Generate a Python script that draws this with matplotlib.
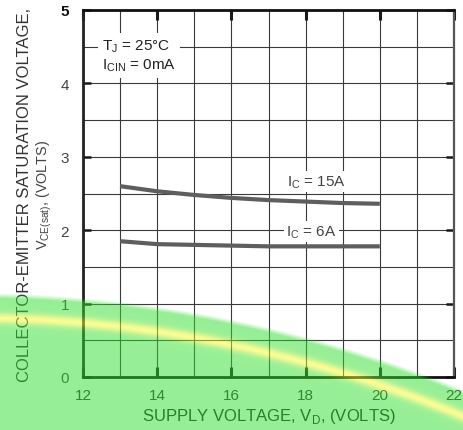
import numpy as np
import matplotlib
matplotlib.use("Agg")
import matplotlib.pyplot as plt

plt.rcParams['font.family'] = ['Liberation Sans', 'DejaVu Sans']

# ---- data ----
vd_15 = [13, 14, 15, 16, 17, 18, 19, 20]
vce_15 = [2.60, 2.53, 2.48, 2.44, 2.41, 2.39, 2.37, 2.36]
vd_6 = [13, 14, 15, 16, 17, 18, 19, 20]
vce_6 = [1.85, 1.81, 1.80, 1.79, 1.78, 1.78, 1.78, 1.78]
x_ticks = [12, 14, 16, 18, 20, 22]
y_ticks = [0, 1, 2, 3, 4, 5]
label_15 = "I$_\\mathregular{C}$ = 15A"
label_6 = "I$_\\mathregular{C}$ = 6A"
cond_lines = ["T$_\\mathregular{J}$ = 25°C", "I$_\\mathregular{CIN}$ = 0mA"]

W, H = 463, 431
fig = plt.figure(figsize=(W / 100, H / 100), dpi=100)
fig.patch.set_facecolor('white')
ax = fig.add_axes([83 / W, 1 - 378 / H, (454 - 83) / W, (378 - 11) / H])
ax.set_xlim(12, 22)
ax.set_ylim(0, 5)

# grid (every 1 V horizontally, every 0.5 V vertically)
ax.set_xticks(x_ticks)
ax.set_yticks(y_ticks)
ax.set_xticks(np.arange(13, 22, 2), minor=True)
ax.set_yticks(np.arange(0.5, 5, 1.0), minor=True)
ax.grid(which='both', color='#3a3a3a', linewidth=0.8)
ax.set_axisbelow(True)

ax.set_xticklabels([str(v) for v in x_ticks])
ax.set_yticklabels([str(v) for v in y_ticks])
ax.tick_params(axis='x', which='major', direction='in', length=7, width=2.2,
               top=True, bottom=True, labelsize=11, pad=8, colors='#1a1a1a',
               labelcolor='#333333')
ax.tick_params(axis='y', which='major', direction='in', length=6, width=1.8,
               left=True, right=True, labelsize=11, pad=10, colors='#1a1a1a',
               labelcolor='#444444')
ax.tick_params(which='minor', length=0)
for lab in ax.get_yticklabels():
    if lab.get_text() == '5':
        lab.set_fontweight('bold')
        lab.set_color('#111111')

for side, lw, col in [('left', 2.0, '#222222'), ('bottom', 2.0, '#111111'),
                      ('top', 2.0, '#111111'), ('right', 1.6, '#555555')]:
    ax.spines[side].set_linewidth(lw)
    ax.spines[side].set_color(col)

# curves
ax.plot(vd_15, vce_15, color='#5e5e5e', linewidth=3.0, solid_capstyle='butt', zorder=3)
ax.plot(vd_6, vce_6, color='#5e5e5e', linewidth=3.0, solid_capstyle='butt', zorder=3)

bb = dict(facecolor='white', edgecolor='none', pad=1.5)
ax.text(18.3, 2.66, label_15, fontsize=11, color='#444444', ha='center', va='center',
        bbox=bb, zorder=4)
ax.text(18.15, 1.98, label_6, fontsize=11, color='#444444', ha='center', va='center',
        bbox=bb, zorder=4)
ax.text(12.52, 4.38, cond_lines[0] + "\n" + cond_lines[1], fontsize=11, color='#222222',
        ha='left', va='center', linespacing=1.2,
        bbox=dict(facecolor='white', edgecolor='none', pad=3), zorder=4)

# axis labels
ax.set_xlabel("SUPPLY VOLTAGE, V$_\\mathregular{D}$, (VOLTS)", fontsize=12, color='#222222',
              labelpad=3)
fig.text(25 / W, 1 - 195 / H, "COLLECTOR-EMITTER SATURATION VOLTAGE,", rotation=90,
         fontsize=12, color='#333333', ha='center', va='center')
fig.text(44 / W, 1 - 195 / H, "V$_\\mathregular{CE(sat)}$, (VOLTS)", rotation=90,
         fontsize=10.4, color='#444444', ha='center', va='center')

# translucent green/yellow band that lies over the lower part of the reference image
yy, xx = np.mgrid[0:H, 0:W] + 0.5
d = np.hypot(xx + 30, yy - 1605)
edge = np.clip((1311 - d) / 5.0, 0, 1)
stripe = np.exp(-((d - 1286) / 5.5) ** 2)
green = np.array([0.18, 0.88, 0.18])
yellow = np.array([0.98, 0.97, 0.16])
rgba = np.zeros((H, W, 4))
rgba[..., :3] = green * (1 - stripe[..., None]) + yellow * stripe[..., None]
rgba[..., 3] = 0.5 * edge
ov = fig.add_axes([0, 0, 1, 1], zorder=10)
ov.imshow(rgba, extent=(0, W, H, 0), interpolation='bilinear', aspect='auto')
ov.set_xlim(0, W)
ov.set_ylim(H, 0)
ov.axis('off')
ov.patch.set_alpha(0)

fig.savefig("out.png", dpi=100, facecolor='white')
